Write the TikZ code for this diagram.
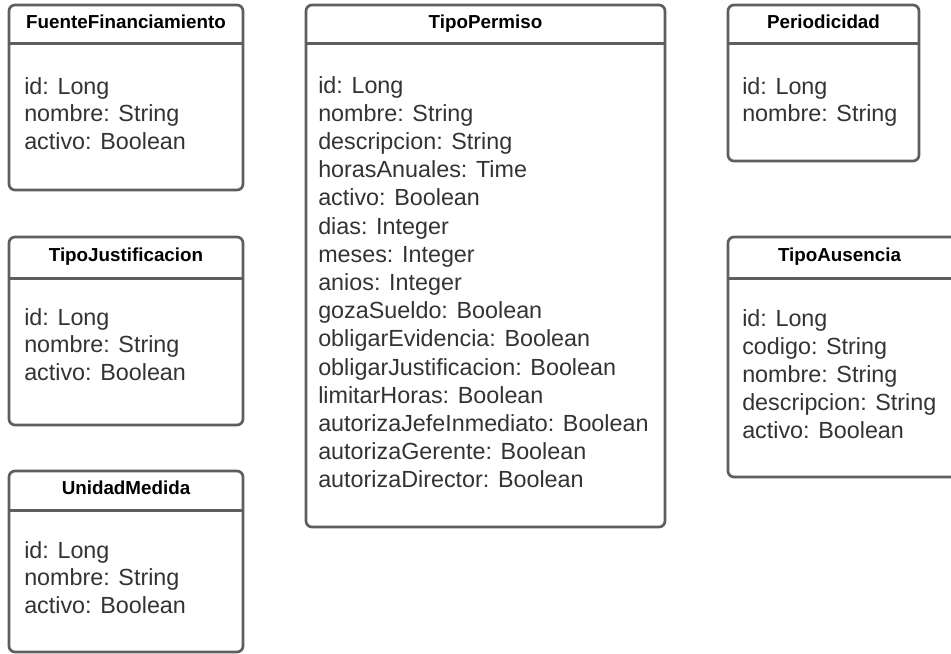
\documentclass[tikz,border=0pt]{standalone}
\usepackage{fontspec}
\setmainfont{Liberation Sans}
\usepackage{xcolor}
\usetikzlibrary{positioning,calc}
\definecolor{umlborder}{HTML}{5E5E5E}
\definecolor{umltext}{HTML}{333333}

\begin{document}
\begin{tikzpicture}[
  x=0.75pt, y=-0.75pt,
  classbox/.style={draw=umlborder, fill=white, line width=2pt, rounded corners=4.5pt},
  sepline/.style={draw=umlborder, line width=2pt},
  classname/.style={font=\fontsize{14.1}{17}\selectfont\bfseries, text=black, inner sep=0pt, anchor=base},
  attr/.style={font=\fontsize{17.5}{21}\selectfont, text=umltext, inner sep=0pt, anchor=base west}
]
  \useasboundingbox (0,0) rectangle (951,654);
  \clip (0,0) rectangle (951,654);
  % left column
  \draw[classbox] (9,5) rectangle (243,190);
  \draw[sepline] (9,43.5) -- (243,43.5);
  \node[classname] (fuente) at (126,28.5) {FuenteFinanciamiento};
  \foreach \txt [count=\i] in {id: Long, nombre: String, activo: Boolean} {
    \node[attr] (fuente-\i) at (24,{94+27.8*(\i-1)}) {\txt};
  }
  \draw[classbox] (9,237) rectangle (243,425);
  \draw[sepline] (9,278.5) -- (243,278.5);
  \node[classname] (justif) at (126,261) {TipoJustificacion};
  \foreach \txt [count=\i] in {id: Long, nombre: String, activo: Boolean} {
    \node[attr] (justif-\i) at (24,{325+27.8*(\i-1)}) {\txt};
  }
  \draw[classbox] (9,471) rectangle (243,652);
  \draw[sepline] (9,510.5) -- (243,510.5);
  \node[classname] (unidad) at (126,494.5) {UnidadMedida};
  \foreach \txt [count=\i] in {id: Long, nombre: String, activo: Boolean} {
    \node[attr] (unidad-\i) at (24,{558+27.8*(\i-1)}) {\txt};
  }
  % middle column
  \draw[classbox] (306,5) rectangle (665,527);
  \draw[sepline] (306,43.5) -- (665,43.5);
  \node[classname] (permiso) at (485.5,28.5) {TipoPermiso};
  \foreach \txt [count=\i] in {id: Long, nombre: String, descripcion: String,
      horasAnuales: Time, activo: Boolean, dias: Integer, meses: Integer,
      anios: Integer, gozaSueldo: Boolean, obligarEvidencia: Boolean,
      obligarJustificacion: Boolean, limitarHoras: Boolean,
      autorizaJefeInmediato: Boolean, autorizaGerente: Boolean,
      autorizaDirector: Boolean} {
    \node[attr] (permiso-\i) at (318,{93+28.2*(\i-1)}) {\txt};
  }
  % right column
  \draw[classbox] (728,5) rectangle (919,161);
  \draw[sepline] (728,43.5) -- (919,43.5);
  \node[classname] (periodo) at (823.5,28.5) {Periodicidad};
  \foreach \txt [count=\i] in {id: Long, nombre: String} {
    \node[attr] (periodo-\i) at (742,{94+27.8*(\i-1)}) {\txt};
  }
  \draw[classbox] (728,237) rectangle (964,477);
  \draw[sepline] (728,278.5) -- (964,278.5);
  \node[classname] (ausencia) at (839.5,261) {TipoAusencia};
  \foreach \txt [count=\i] in {id: Long, codigo: String, nombre: String,
      descripcion: String, activo: Boolean} {
    \node[attr] (ausencia-\i) at (742,{326+28*(\i-1)}) {\txt};
  }
\end{tikzpicture}
\end{document}
